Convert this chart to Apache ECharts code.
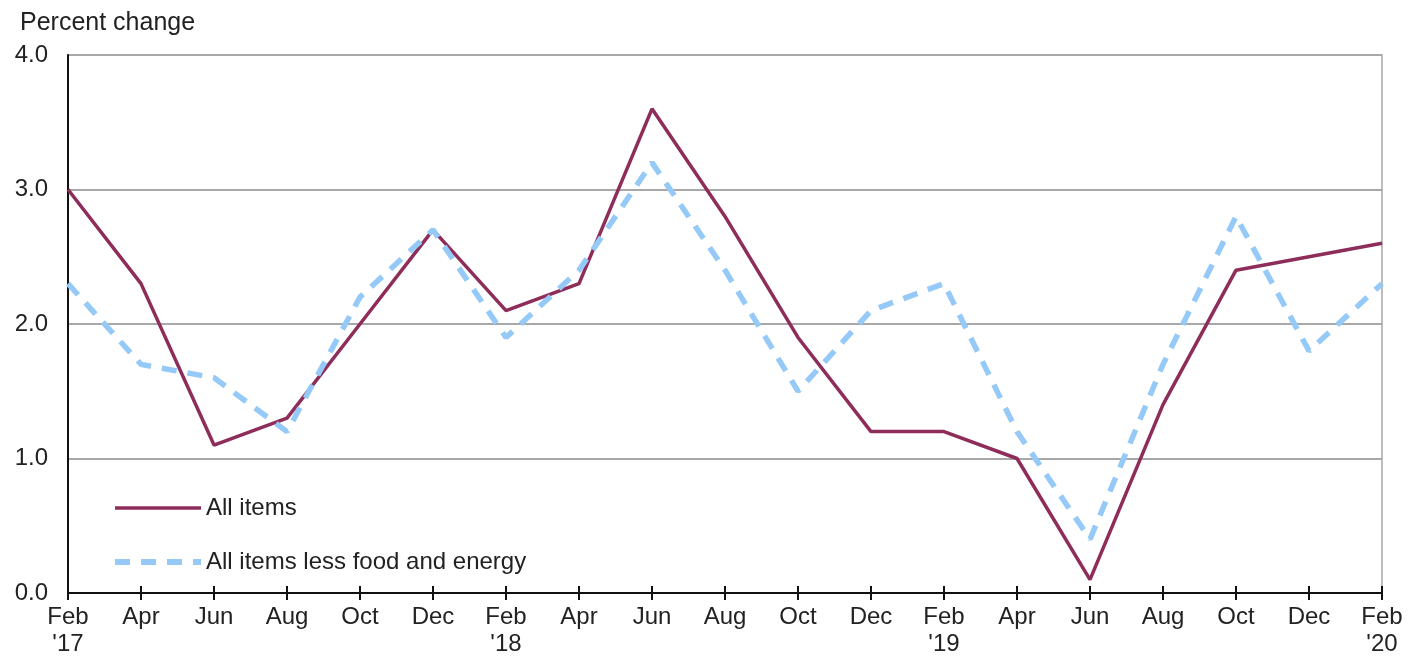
<!DOCTYPE html>
<html>
<head>
<meta charset="utf-8">
<script src="https://cdn.jsdelivr.net/npm/echarts@6/dist/echarts.min.js"></script>
<style>
html,body{margin:0;padding:0;background:#fff;}
#chart{width:1408px;height:662px;}
</style>
</head>
<body>
<div id="chart"></div>
<script>
var categories = ["Feb\n'17","Apr","Jun","Aug","Oct","Dec","Feb\n'18","Apr","Jun","Aug","Oct","Dec","Feb\n'19","Apr","Jun","Aug","Oct","Dec","Feb\n'20"];
var allItems = [3.0,2.3,1.1,1.3,2.0,2.7,2.1,2.3,3.6,2.8,1.9,1.2,1.2,1.0,0.1,1.4,2.4,2.5,2.6];
var coreItems = [2.3,1.7,1.6,1.2,2.2,2.7,1.9,2.4,3.2,2.4,1.5,2.1,2.3,1.2,0.4,1.7,2.8,1.8,2.3];
var seriesNames = ["All items","All items less food and energy"];
var yTicks = {min:0, max:4, interval:1};
var axisTitle = "Percent change";

var FONT = '"Liberation Sans", Arial, sans-serif';
var RED = '#8e2d5a', BLUE = '#94c9f8';
var chart = echarts.init(document.getElementById('chart'), null, {renderer:'canvas'});
chart.setOption({
  animation:false,
  backgroundColor:'#fff',
  title:{
    text: axisTitle,
    left: 15, top: 6,
    textStyle:{fontFamily:FONT, fontSize:25, fontWeight:'normal', color:'#222'}
  },
  grid:{left:68, right:26, top:55, bottom:69, show:true, borderColor:'#a8a8a8', borderWidth:1.5, containLabel:false},
  legend:{
    orient:'vertical', left:107, top:491,
    itemWidth:86, itemHeight:14, itemGap:30,
    data: [
      {name: seriesNames[0], itemStyle:{opacity:0}, lineStyle:{color:RED, width:3.5, type:'solid'}},
      {name: seriesNames[1], itemStyle:{opacity:0}, lineStyle:{color:BLUE, width:6, type:[15,11]}}
    ],
    textStyle:{fontFamily:FONT, fontSize:24, color:'#222', lineHeight:22}
  },
  xAxis:[{
    type:'category', data:categories, boundaryGap:false,
    axisLine:{lineStyle:{color:'#111', width:2}},
    axisTick:{show:true, length:7, lineStyle:{color:'#111', width:2}},
    axisLabel:{fontFamily:FONT, fontSize:24, color:'#222', margin:11, lineHeight:27, interval:0},
    splitLine:{show:false}
  },{
    type:'category', data:categories, boundaryGap:false, position:'bottom', offset:0,
    axisLine:{show:false},
    axisTick:{show:true, inside:true, length:7, lineStyle:{color:'#111', width:2}},
    axisLabel:{show:false},
    splitLine:{show:false}
  }],
  yAxis:{
    type:'value', min:yTicks.min, max:yTicks.max, interval:yTicks.interval,
    axisLine:{show:true, lineStyle:{color:'#111', width:2}},
    axisTick:{show:false},
    axisLabel:{fontFamily:FONT, fontSize:24, color:'#222', margin:20, formatter:function(v){return v.toFixed(1);}},
    splitLine:{lineStyle:{color:'#a8a8a8', width:2}}
  },
  series:[{
    name: seriesNames[0], type:'line', data: allItems,
    symbol:'none', showSymbol:false,
    lineStyle:{color:RED, width:3.5},
    itemStyle:{color:RED}, z:3
  },{
    name: seriesNames[1], type:'line', data: coreItems,
    symbol:'none', showSymbol:false,
    lineStyle:{color:BLUE, width:5.5, type:[15,11]},
    itemStyle:{color:BLUE}, z:4
  }]
});
</script>
</body>
</html>
